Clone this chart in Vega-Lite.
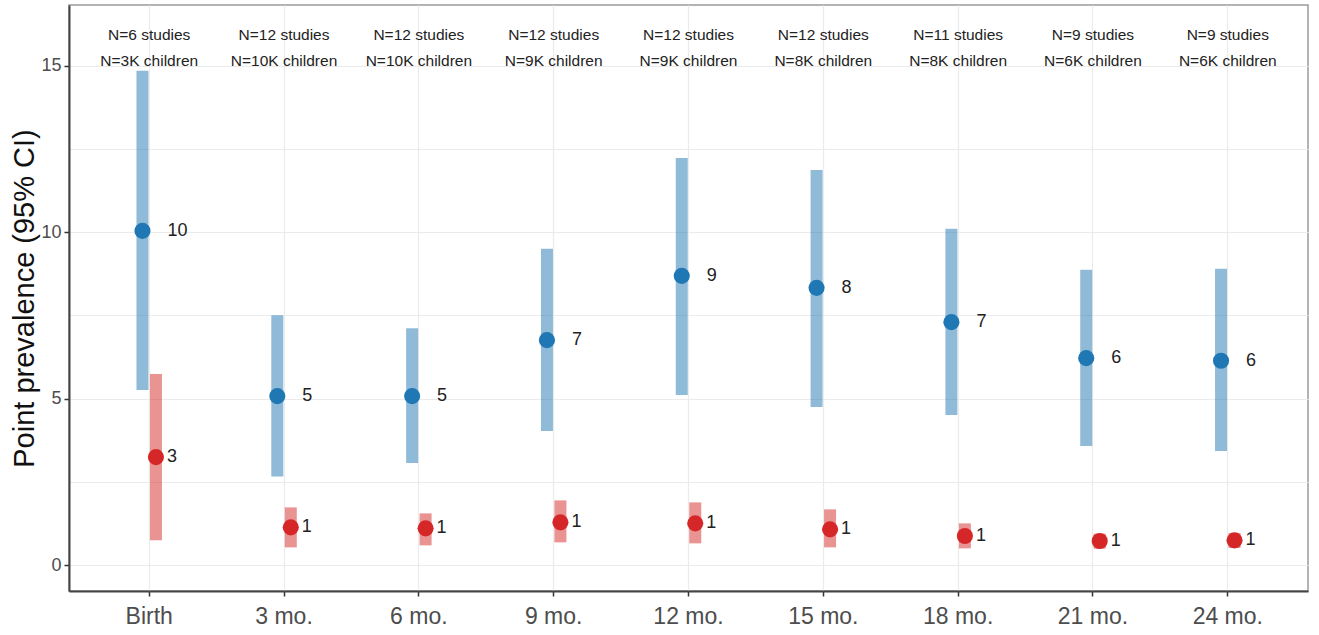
{
  "$schema": "https://vega.github.io/schema/vega-lite/v6.json",
  "autosize": "none",
  "width": 1239,
  "height": 586,
  "padding": {"left": 69, "top": 5, "right": 11, "bottom": 44},
  "background": "white",
  "config": {
    "font": "Liberation Sans, Arial",
    "view": {"stroke": "#9a9a9a", "strokeWidth": 1.5},
    "axis": {
      "labelColor": "#4d4d4d",
      "labelFont": "Liberation Sans, Arial",
      "tickColor": "#333333",
      "domainColor": "#444444",
      "domainWidth": 2,
      "gridColor": "#ebebeb",
      "gridWidth": 1.2,
      "tickSize": 5,
      "tickWidth": 1.5
    }
  },
  "datasets": {
    "est": [
      {"age": "Birth", "series": "blue", "est": 10.04, "lo": 5.26, "hi": 14.85, "label": "10"},
      {"age": "3 mo.", "series": "blue", "est": 5.08, "lo": 2.67, "hi": 7.51, "label": "5"},
      {"age": "6 mo.", "series": "blue", "est": 5.08, "lo": 3.07, "hi": 7.12, "label": "5"},
      {"age": "9 mo.", "series": "blue", "est": 6.76, "lo": 4.03, "hi": 9.5, "label": "7"},
      {"age": "12 mo.", "series": "blue", "est": 8.69, "lo": 5.11, "hi": 12.23, "label": "9"},
      {"age": "15 mo.", "series": "blue", "est": 8.33, "lo": 4.75, "hi": 11.87, "label": "8"},
      {"age": "18 mo.", "series": "blue", "est": 7.3, "lo": 4.51, "hi": 10.1, "label": "7"},
      {"age": "21 mo.", "series": "blue", "est": 6.22, "lo": 3.58, "hi": 8.87, "label": "6"},
      {"age": "24 mo.", "series": "blue", "est": 6.14, "lo": 3.43, "hi": 8.9, "label": "6"},
      {"age": "Birth", "series": "red", "est": 3.25, "lo": 0.75, "hi": 5.74, "label": "3"},
      {"age": "3 mo.", "series": "red", "est": 1.14, "lo": 0.54, "hi": 1.74, "label": "1"},
      {"age": "6 mo.", "series": "red", "est": 1.11, "lo": 0.6, "hi": 1.56, "label": "1"},
      {"age": "9 mo.", "series": "red", "est": 1.29, "lo": 0.69, "hi": 1.95, "label": "1"},
      {"age": "12 mo.", "series": "red", "est": 1.26, "lo": 0.66, "hi": 1.89, "label": "1"},
      {"age": "15 mo.", "series": "red", "est": 1.08, "lo": 0.54, "hi": 1.68, "label": "1"},
      {"age": "18 mo.", "series": "red", "est": 0.88, "lo": 0.51, "hi": 1.26, "label": "1"},
      {"age": "21 mo.", "series": "red", "est": 0.73, "lo": 0.5, "hi": 0.95, "label": "1"},
      {"age": "24 mo.", "series": "red", "est": 0.75, "lo": 0.52, "hi": 0.97, "label": "1"}
    ],
    "ann": [
      {"age": "Birth", "text": "N=6 studies\nN=3K children"},
      {"age": "3 mo.", "text": "N=12 studies\nN=10K children"},
      {"age": "6 mo.", "text": "N=12 studies\nN=10K children"},
      {"age": "9 mo.", "text": "N=12 studies\nN=9K children"},
      {"age": "12 mo.", "text": "N=12 studies\nN=9K children"},
      {"age": "15 mo.", "text": "N=12 studies\nN=8K children"},
      {"age": "18 mo.", "text": "N=11 studies\nN=8K children"},
      {"age": "21 mo.", "text": "N=9 studies\nN=6K children"},
      {"age": "24 mo.", "text": "N=9 studies\nN=6K children"}
    ]
  },
  "encoding": {
    "x": {
      "field": "age",
      "type": "ordinal",
      "sort": ["Birth", "3 mo.", "6 mo.", "9 mo.", "12 mo.", "15 mo.", "18 mo.", "21 mo.", "24 mo."],
      "scale": {"paddingInner": 0.9, "paddingOuter": 0.545},
      "axis": {
        "title": null,
        "labelAngle": 0,
        "labelFontSize": 23,
        "labelPadding": 9,
        "grid": true
      }
    }
  },
  "layer": [
    {
      "data": {"name": "est"},
      "mark": {"type": "rule", "strokeWidth": 12, "opacity": 0.5, "strokeCap": "butt"},
      "encoding": {
        "xOffset": {"field": "series", "type": "nominal", "scale": {"type": "point", "padding": 0, "domain": ["blue", "red"]}},
        "y": {
          "field": "lo",
          "type": "quantitative",
          "scale": {"domain": [-0.77, 16.82], "nice": false, "zero": false},
          "axis": {
            "title": "Point prevalence (95% CI)",
            "titleFontSize": 29,
            "titleFont": "Liberation Sans",
            "titleFontWeight": "normal",
            "titleColor": "#111111",
            "titlePadding": 1,
            "values": [0, 2.5, 5, 7.5, 10, 12.5, 15],
            "labelExpr": "datum.value % 5 === 0 ? datum.label : ''",
            "labelFontSize": 18,
            "labelPadding": 3,
            "tickOpacity": {"condition": {"test": "datum.value % 5 === 0", "value": 1}, "value": 0}
          }
        },
        "y2": {"field": "hi"},
        "color": {"field": "series", "type": "nominal", "scale": {"domain": ["blue", "red"], "range": ["#1f77b4", "#d62728"]}, "legend": null}
      }
    },
    {
      "data": {"name": "est"},
      "mark": {"type": "circle", "size": 260, "opacity": 1},
      "encoding": {
        "xOffset": {"field": "series", "type": "nominal", "scale": {"type": "point", "padding": 0, "domain": ["blue", "red"]}},
        "y": {"field": "est", "type": "quantitative"},
        "color": {"field": "series", "type": "nominal", "scale": {"domain": ["blue", "red"], "range": ["#1f77b4", "#d62728"]}, "legend": null}
      }
    },
    {
      "data": {"name": "est"},
      "transform": [{"filter": "datum.series === 'blue'"}],
      "mark": {"type": "text", "align": "left", "baseline": "middle", "dx": 25, "fontSize": 18, "color": "#222222"},
      "encoding": {
        "xOffset": {"field": "series", "type": "nominal", "scale": {"type": "point", "padding": 0, "domain": ["blue", "red"]}},
        "y": {"field": "est", "type": "quantitative"},
        "text": {"field": "label"}
      }
    },
    {
      "data": {"name": "est"},
      "transform": [{"filter": "datum.series === 'red'"}],
      "mark": {"type": "text", "align": "left", "baseline": "middle", "dx": 11, "fontSize": 18, "color": "#222222"},
      "encoding": {
        "xOffset": {"field": "series", "type": "nominal", "scale": {"type": "point", "padding": 0, "domain": ["blue", "red"]}},
        "y": {"field": "est", "type": "quantitative"},
        "text": {"field": "label"}
      }
    },
    {
      "data": {"name": "ann"},
      "mark": {"type": "text", "align": "center", "baseline": "middle", "fontSize": 15.5, "lineHeight": 26, "lineBreak": "\n", "color": "#222222"},
      "encoding": {
        "y": {"datum": 15.93},
        "text": {"field": "text"}
      }
    }
  ]
}
